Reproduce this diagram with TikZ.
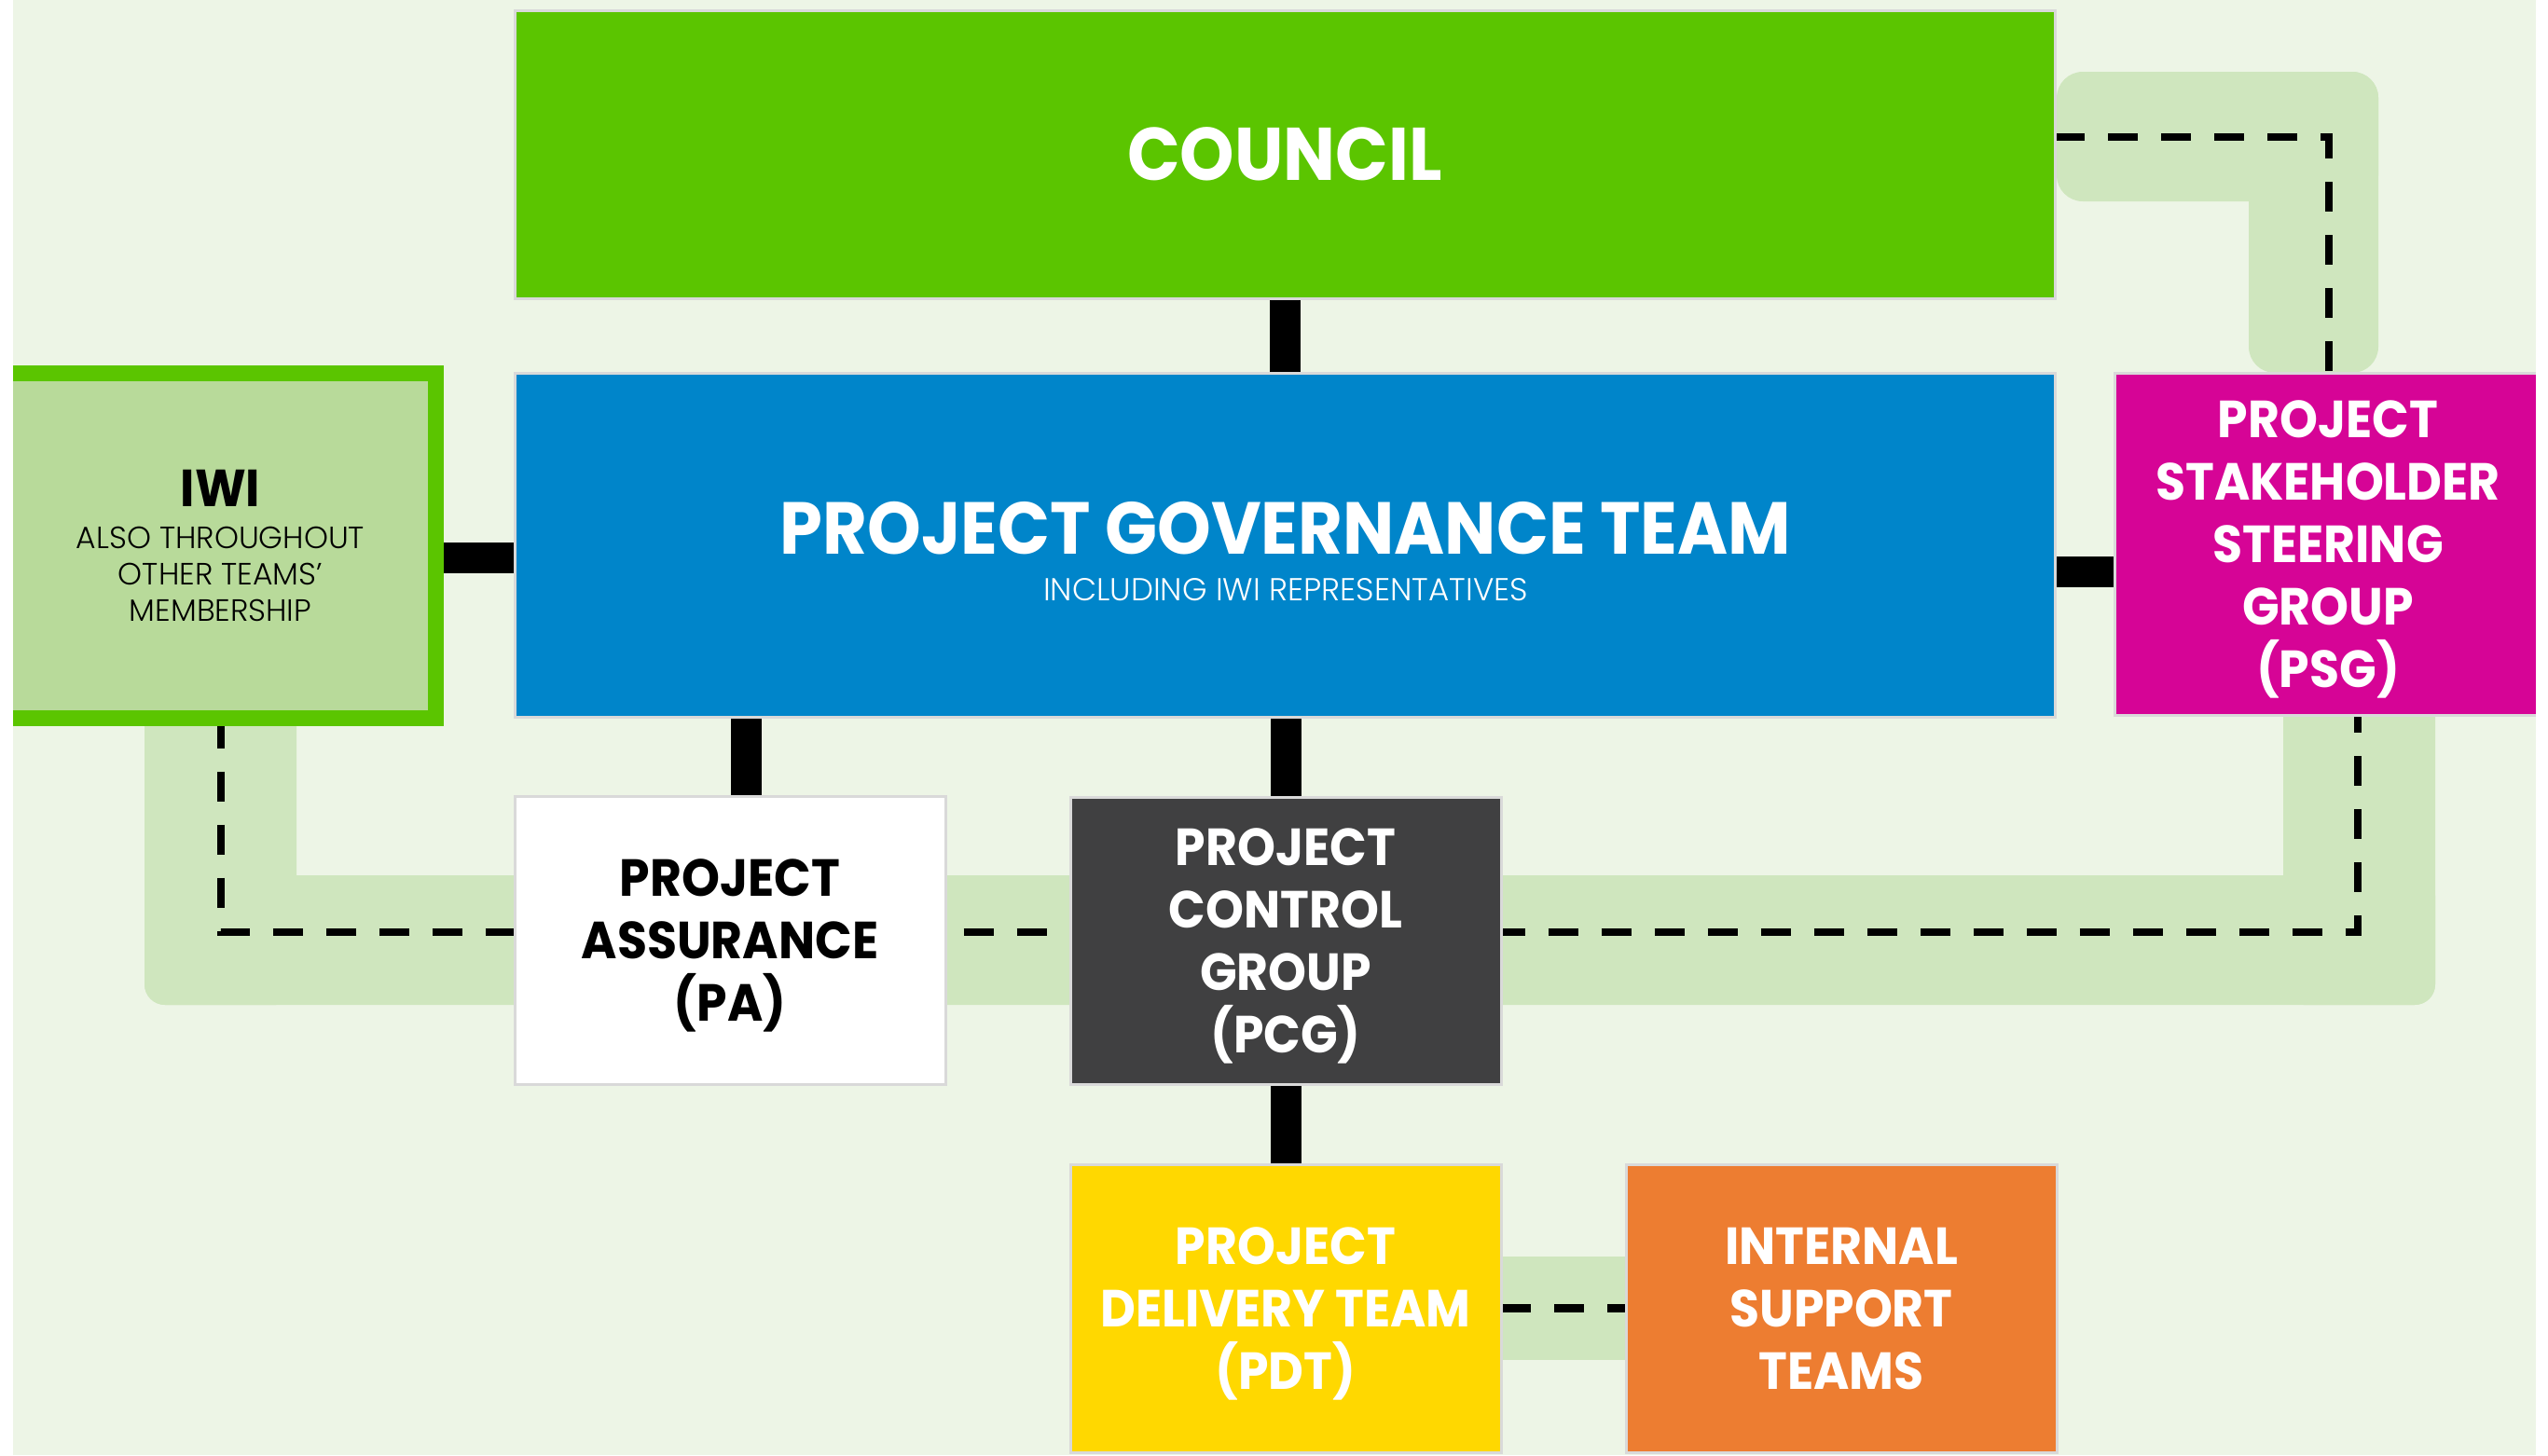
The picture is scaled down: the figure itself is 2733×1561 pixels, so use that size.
\documentclass[tikz,border=0pt]{standalone}
\usepackage{fontspec}
\setmainfont{Poppins}[BoldFeatures={FakeStretch=0.93}]
\newfontfamily\lightface{Poppins Light}
\usetikzlibrary{calc}
\pgfdeclarelayer{back}
\pgfsetlayers{back,main}

\definecolor{bg}{RGB}{237,245,230}
\definecolor{band}{RGB}{207,230,190}
\definecolor{councilgreen}{RGB}{91,197,0}
\definecolor{govblue}{RGB}{0,133,202}
\definecolor{psgmagenta}{RGB}{214,4,150}
\definecolor{iwifill}{RGB}{184,218,154}
\definecolor{pcggrey}{RGB}{64,64,65}
\definecolor{pdtyellow}{RGB}{255,216,0}
\definecolor{istorange}{RGB}{237,125,49}
\definecolor{edge}{RGB}{217,217,217}

\begin{document}
\begin{tikzpicture}[x=1pt,y=-1pt,
  box/.style={draw=edge, line width=3pt, inner sep=0pt, outer sep=0pt, anchor=north west,
    align=center, text depth=-7pt, font=\bfseries\fontsize{56}{67}\selectfont},
  link/.style={line width=33pt},
  dashlink/.style={line width=8.5pt, dash pattern=on 32pt off 25pt},
  bandfill/.style={fill=band}]

\useasboundingbox (0,0) rectangle (2733,1561);

% boxes
\node[box, fill=councilgreen, text=white, minimum width=1652pt, minimum height=309pt,
  font=\bfseries\fontsize{80}{90}\selectfont] (council) at (552,11) {COUNCIL};
\node[box, fill=govblue, minimum width=1652pt, minimum height=369pt] (pgt) at (552,400) {};
\node[anchor=base, text=white, font=\bfseries\fontsize{79}{79}\selectfont] (pgttitle) at (1379,594) {PROJECT GOVERNANCE TEAM};
\node[anchor=base, text=white, font=\lightface\fontsize{34}{34}\selectfont] (pgtsub) at (1379,644) {INCLUDING IWI REPRESENTATIVES};

\node[box, draw=councilgreen, line width=17pt, fill=iwifill, minimum width=462pt, minimum height=370pt,
  font=\lightface\fontsize{33}{39}\selectfont] (iwi) at (5.5,400.5)
  {{\normalfont\bfseries\fontsize{56}{45}\selectfont IWI}\\[6pt] ALSO THROUGHOUT\\ OTHER TEAMS’\\ MEMBERSHIP};

\node[box, fill=psgmagenta, text=white, minimum width=458pt, minimum height=367pt] (psg) at (2268,400)
  {PROJECT\\ STAKEHOLDER\\ STEERING\\ GROUP\\ (PSG)};
\node[box, fill=white, text=black, minimum width=462pt, minimum height=309pt] (pa) at (552,854)
  {PROJECT\\ ASSURANCE\\ (PA)};
\node[box, fill=pcggrey, text=white, minimum width=462pt, minimum height=308pt] (pcg) at (1148,855)
  {PROJECT\\ CONTROL\\ GROUP\\ (PCG)};
\node[box, fill=pdtyellow, text=white, minimum width=462pt, minimum height=309pt] (pdt) at (1148,1249)
  {PROJECT\\ DELIVERY TEAM\\ (PDT)};
\node[box, fill=istorange, text=white, minimum width=462pt, minimum height=309pt] (ist) at (1744,1249)
  {INTERNAL\\ SUPPORT\\ TEAMS};

% page edges
\fill[white] (0,0) rectangle (14,1561);
\fill[white] (2720,0) rectangle (2733,1561);

\begin{pgfonlayer}{back}
  \fill[bg] (14,0) rectangle (2720,1561);
  % light green bands behind the dashed links
  \fill[band, rounded corners=28pt] (2206,77) rectangle (2551,216);
  \fill[band, rounded corners=28pt] (2412,77) rectangle (2551,400);
  \fill[band, rounded corners=22pt] (155,740) rectangle (318,1078);
  \fill[band, rounded corners=22pt] (155,939) rectangle (2612,1078);
  \fill[band, rounded corners=22pt] (2449,740) rectangle (2612,1078);
  \fill[band] (1600,1348) rectangle (1754,1459);

  % dashed links
  \coordinate (tc) at (2498,147);
  \coordinate (bl) at (237,1000);
  \coordinate (br) at (2529,1000);
  \draw[dashlink] (council.east |- tc) -- (tc) -- (psg.north -| tc);
  \draw[dashlink] (iwi.south -| bl) -- (bl) -- (br) -- (psg.south -| br);
  \draw[dashlink] (pdt.east) -- (ist.west);

  % solid links
  \draw[link] (council.south) -- (pgt.north);
  \draw[link] (iwi.east |- 0,598) -- (pgt.west |- 0,598);
  \draw[link] (pgt.east |- 0,613) -- (psg.west |- 0,613);
  \draw[link] (pgt.south -| 800,0) -- (pa.north -| 800,0);
  \draw[link] (pgt.south -| pcg.north) -- (pcg.north);
  \draw[link] (pcg.south) -- (pdt.north);
\end{pgfonlayer}
\end{tikzpicture}
\end{document}
